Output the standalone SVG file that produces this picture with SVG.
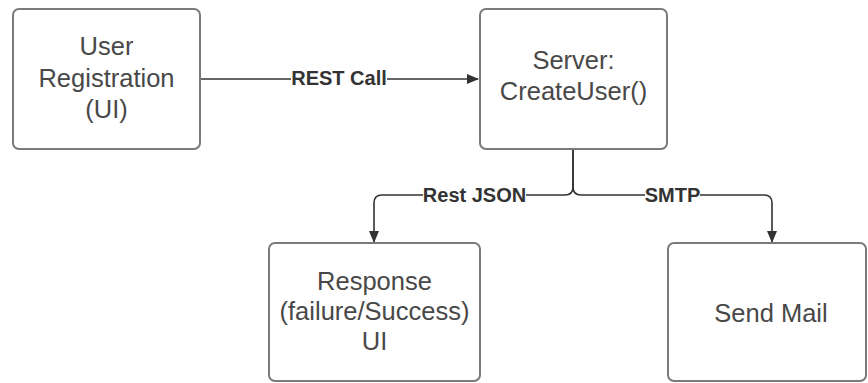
<svg xmlns="http://www.w3.org/2000/svg" width="868" height="383" viewBox="0 0 868 383">
  <style>
    .box { fill: #ffffff; stroke: #7a7a7a; stroke-width: 2; }
    .txt { font-family: "Liberation Sans", Arial, sans-serif; font-size: 25.5px; fill: #484848; text-anchor: middle; }
    .wire { fill: none; stroke: #333333; stroke-width: 1.6; }
    .lbl { font-family: "Liberation Sans", Arial, sans-serif; font-size: 20px; font-weight: bold; fill: #333333; text-anchor: middle; }
    .lblbg { fill: #ffffff; }
  </style>
  <defs>
    <marker id="arrow" viewBox="0 0 12 10" refX="11" refY="5" markerWidth="12" markerHeight="10" markerUnits="userSpaceOnUse" orient="auto">
      <path d="M0,0 L12,5 L0,10 Z" fill="#333333"/>
    </marker>
  </defs>
  <rect width="868" height="383" fill="#ffffff"/>

  <g id="connectors">
    <path class="wire" d="M201 79 H478" marker-end="url(#arrow)"/>
    <path class="wire" d="M573 150 V187 Q573 195 565 195 H382 Q374 195 374 203 V242" marker-end="url(#arrow)"/>
    <path class="wire" d="M573 150 V187 Q573 195 581 195 H764 Q772 195 772 203 V242" marker-end="url(#arrow)"/>
    <rect class="lblbg" x="291" y="66" width="96" height="24"/>
    <text class="lbl" x="339" y="85">REST Call</text>
    <rect class="lblbg" x="423" y="184" width="103" height="22"/>
    <text class="lbl" x="474.5" y="202">Rest JSON</text>
    <rect class="lblbg" x="645" y="184" width="55" height="22"/>
    <text class="lbl" x="672.5" y="202">SMTP</text>
  </g>

  <g id="user-registration">
    <rect class="box" x="13" y="9" width="187" height="140" rx="6"/>
    <text class="txt" x="106.5" y="55">User</text>
    <text class="txt" x="106.5" y="87">Registration</text>
    <text class="txt" x="106.5" y="118">(UI)</text>
  </g>

  <g id="server">
    <rect class="box" x="480" y="9" width="187" height="140" rx="6"/>
    <text class="txt" x="573.5" y="69">Server:</text>
    <text class="txt" x="573.5" y="100">CreateUser()</text>
  </g>

  <g id="response">
    <rect class="box" x="269" y="243" width="211" height="138" rx="6"/>
    <text class="txt" x="374.5" y="290">Response</text>
    <text class="txt" x="374.5" y="320">(failure/Success)</text>
    <text class="txt" x="374.5" y="350">UI</text>
  </g>

  <g id="send-mail">
    <rect class="box" x="668" y="243" width="198" height="138" rx="6"/>
    <text class="txt" x="771" y="322">Send Mail</text>
  </g>
</svg>
